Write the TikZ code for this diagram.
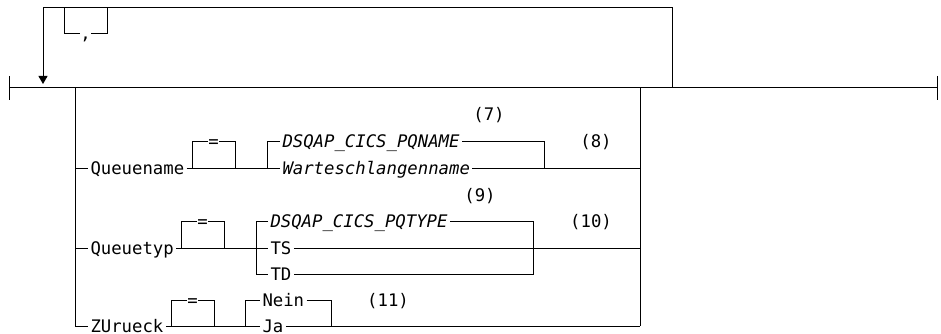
\documentclass[tikz,border=0pt]{standalone}
\usepackage{fontspec}
\setmainfont{DejaVu Sans Mono}
\usetikzlibrary{arrows.meta}
\begin{document}
\fontsize{17.3}{20}\selectfont
\begin{tikzpicture}[x=1pt,y=-1pt,line width=1pt,
    note/.style={inner sep=0pt,text height=12pt,text depth=0pt},
    kw/.style={note,inner xsep=2pt,anchor=west},
    var/.style={kw,font=\itshape}]
  \useasboundingbox (0,0) rectangle (941,334);

  % linea principale
  \coordinate (start) at (9,88);
  \coordinate (stop) at (937,88);
  \draw (9,76) -- (9,100);
  \draw (937,76) -- (937,100);
  \draw (start) -- (stop);
  \draw[line width=1.8pt] (17,87.5) -- (23,87.5);
  \draw[line width=1.8pt] (677,87.5) -- (697,87.5);

  % ripetizione con virgola
  \coordinate (rep) at (672,88);
  \coordinate (back) at (43,84);
  \draw[-{Triangle[width=9pt,length=8pt]}] (rep) -- (672,8) -- (43,8) -- (back);
  \node[note] (comma) at (85.5,34) {,};
  \draw (64,8) |- (comma.west);
  \draw (comma.east) -| (107,8);

  % gruppo
  \coordinate (gl) at (75,88);
  \coordinate (gr) at (640,88);
  \draw (gr) -- (640,326);

  % Queuename
  \node[kw] (qname) at (88,168) {Queuename};
  \node[note] (eqa) at (213.5,141) {=};
  \node[var] (pqname) at (280,141) {DSQAP\_CICS\_PQNAME};
  \node[var] (wsname) at (280,168) {Warteschlangenname};
  \node[note] (n7) at (489,115) {(7)};
  \node[note] (n8) at (596,141) {(8)};
  \draw (75,168) -- (qname.west);
  \draw (qname.east) -- (wsname.west);
  \draw (192,168) |- (eqa.west);
  \draw (eqa.east) -| (235,168);
  \draw (267,168) |- (pqname.west);
  \draw (pqname.east) -| (544,168);
  \draw (wsname.east) -- (640,168);

  % Queuetyp
  \node[kw] (qtyp) at (88,248) {Queuetyp};
  \node[note] (eqb) at (202.5,221) {=};
  \node[var] (pqtype) at (268,221) {DSQAP\_CICS\_PQTYPE};
  \node[kw] (ts) at (268,248) {TS};
  \node[kw] (td) at (268,274) {TD};
  \node[note] (n9) at (480,195) {(9)};
  \node[note] (n10) at (591,221) {(10)};
  \draw (75,248) -- (qtyp.west);
  \draw (qtyp.east) -- (ts.west);
  \draw (181,248) |- (eqb.west);
  \draw (eqb.east) -| (224,248);
  \draw (pqtype.west) -| (256,274) -- (td.west);
  \draw (pqtype.east) -| (533,274) -- (td.east);
  \draw (ts.east) -- (640,248);

  % ZUrueck
  \node[kw] (zur) at (88,326) {ZUrueck};
  \node[note] (eqc) at (192.5,300) {=};
  \node[kw] (nein) at (260,300) {Nein};
  \node[kw] (ja) at (260,326) {Ja};
  \node[note] (n11) at (388,300) {(11)};
  \draw (gl) |- (zur.west);
  \draw (zur.east) -- (ja.west);
  \draw (171,326) |- (eqc.west);
  \draw (eqc.east) -| (214,326);
  \draw (245,326) |- (nein.west);
  \draw (nein.east) -| (331,326);
  \draw (ja.east) -- (640,326);
\end{tikzpicture}
\end{document}
